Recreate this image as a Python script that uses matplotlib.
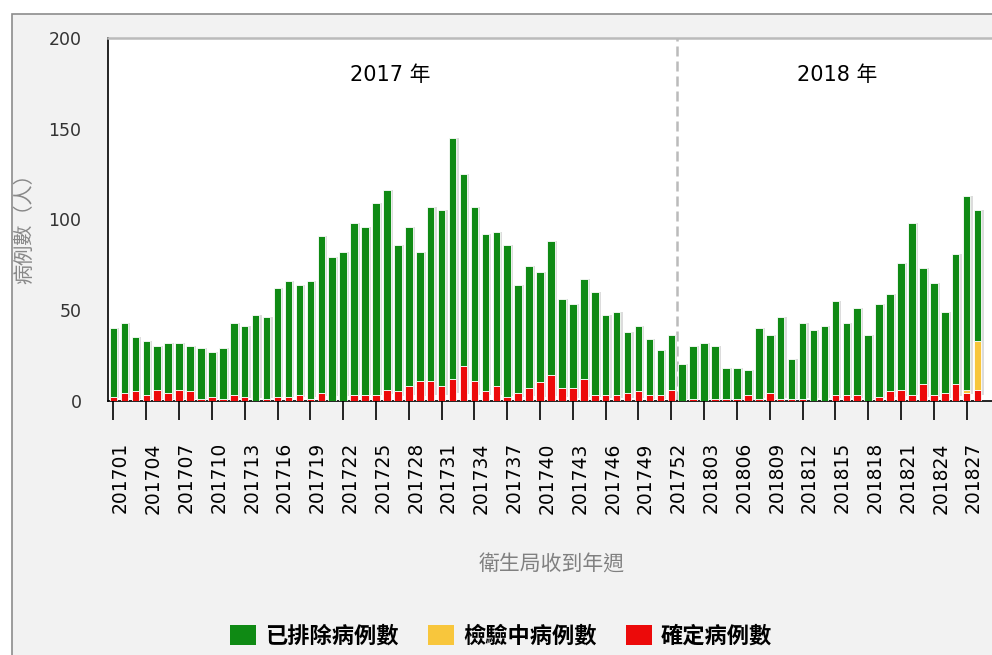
import matplotlib
matplotlib.use("Agg")
import matplotlib.pyplot as plt
from matplotlib.patches import Patch, Rectangle
from matplotlib.transforms import ScaledTranslation
import numpy as np

plt.rcParams['font.family'] = ['DejaVu Sans', 'Noto Sans CJK TC']
CJK = ['Noto Sans CJK TC', 'DejaVu Sans']

# 週次 (2017 第1週 ~ 2018 第28週)
weeks = [f"2017{w:02d}" for w in range(1, 53)] + [f"2018{w:02d}" for w in range(1, 29)]

# 確定病例數 (紅)
confirmed = [2, 4, 5, 3, 6, 4, 6, 5, 1, 2, 1, 3, 2, 0, 1, 2, 2, 3, 1, 4,
             0, 0, 3, 3, 3, 6, 5, 8, 11, 11, 8, 12, 19, 11, 5, 8, 2, 4, 7, 10,
             14, 7, 7, 12, 3, 3, 3, 4, 5, 3, 3, 6,
             0, 1, 0, 1, 1, 1, 3, 1, 4, 1, 1, 1, 0, 0, 3, 3, 3, 0, 2, 5,
             6, 3, 9, 3, 4, 9, 4, 6]
# 檢驗中病例數 (黃)
pending = [0] * 78 + [2, 27]
# 已排除病例數 (綠)
excluded = [38, 39, 30, 30, 24, 28, 26, 25, 28, 25, 28, 40, 39, 47, 45, 60, 64, 61, 65, 87,
            79, 82, 95, 93, 106, 110, 81, 88, 71, 96, 97, 133, 106, 96, 87, 85, 84, 60, 67, 61,
            74, 49, 46, 55, 57, 44, 46, 34, 36, 31, 25, 30,
            20, 29, 32, 29, 17, 17, 14, 39, 32, 45, 22, 42, 39, 41, 52, 40, 48, 36, 51, 54,
            70, 95, 64, 62, 45, 72, 107, 72]

GREEN = "#0f8a14"
YELLOW = "#f8c63c"
RED = "#ec0a0a"

x = np.arange(len(weeks))
confirmed = np.array(confirmed)
pending = np.array(pending)
excluded = np.array(excluded)
total = confirmed + pending + excluded

fig = plt.figure(figsize=(9.92, 6.55), dpi=100, facecolor="white")

# 外框 + 灰色底
frame = Rectangle((12 / 992, -0.1), 1.0, 1 - 14 / 655 + 0.1, transform=fig.transFigure,
                  facecolor="#f2f2f2", edgecolor="#8c8c8c", linewidth=1.2, zorder=0)
fig.add_artist(frame)

ax = fig.add_axes([108 / 992, 1 - 400.5 / 655, (992 - 108) / 992, (400.5 - 38) / 655])
ax.set_facecolor("white")

w = 0.69
# 陰影
ax.bar(x + 0.2, total * 0.97, bottom=total * 0.03, width=w, color="#dcdcdc", linewidth=0, zorder=2)
kw = dict(width=w, edgecolor="white", linewidth=0.6, zorder=3)
ax.bar(x, confirmed, color=RED, **kw)
ax.bar(x, pending, bottom=confirmed, color=YELLOW, **kw)
ax.bar(x, excluded, bottom=confirmed + pending, color=GREEN, **kw)

ax.axvline(51.5, color="#bbbbbb", linestyle=(0, (4, 2)), linewidth=1.8, zorder=1)

ax.text(25.3, 179.5, "2017 年", ha="center", va="center", fontsize=15, color="black")
ax.text(66.2, 179.5, "2018 年", ha="center", va="center", fontsize=15, color="black")

ax.set_xlim(-0.5, (992 - 113.3) / 10.94)
ax.set_ylim(0, 200)
ax.set_yticks([0, 50, 100, 150, 200])
ax.tick_params(axis="y", length=0, pad=19, labelsize=12.5, labelcolor="#333333")

ticks = x[::3]
ax.set_xticks(ticks)
ax.set_xticklabels([weeks[i] for i in ticks], rotation=90, fontsize=13.5)
ax.tick_params(axis="x", length=14, width=1.2, pad=16, color="black")
for lbl in ax.get_xticklabels():
    lbl.set_transform(lbl.get_transform() + ScaledTranslation(0.07, 0, fig.dpi_scale_trans))

for s in ["left", "bottom"]:
    ax.spines[s].set_color("black")
    ax.spines[s].set_linewidth(1.2)
ax.spines["top"].set_color("#bbbbbb")
ax.spines["top"].set_linewidth(1.8)
ax.spines["right"].set_visible(False)

fig.text(25 / 992, 1 - 224 / 655, "病例數（人）", rotation=90, ha="center", va="center",
         fontsize=14.5, color="#888888", family=CJK)
fig.text(552 / 992, 1 - 565 / 655, "衛生局收到年週", ha="center", va="center",
         fontsize=15, color="#808080", family=CJK)

handles = [Patch(facecolor=GREEN, label="已排除病例數"),
           Patch(facecolor=YELLOW, label="檢驗中病例數"),
           Patch(facecolor=RED, label="確定病例數")]
fig.legend(handles=handles, loc="center", bbox_to_anchor=(501 / 992, 1 - 636 / 655), ncol=3,
           frameon=False, prop={"family": CJK, "weight": "bold", "size": 16},
           handlelength=1.2, handleheight=1.05, handletextpad=0.4, columnspacing=1.3)

fig.savefig("out.png", dpi=100, facecolor="white")
